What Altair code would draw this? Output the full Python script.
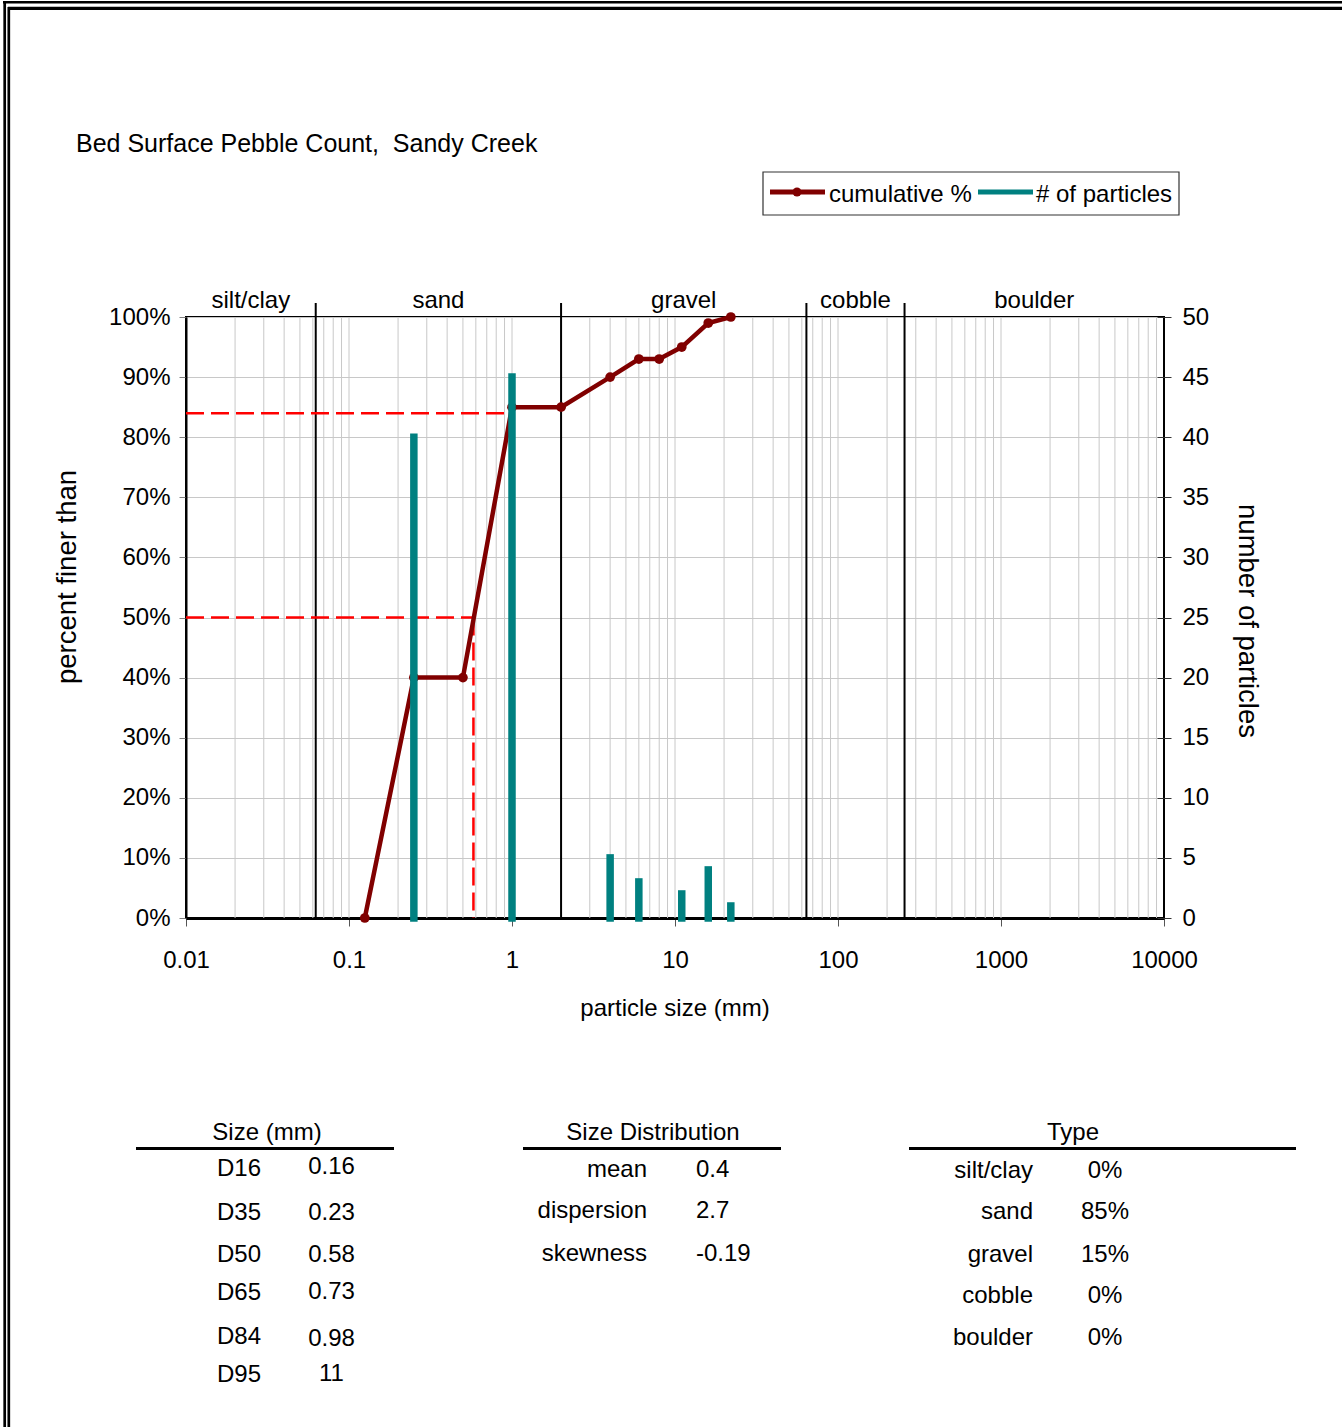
import altair as alt
import pandas as pd

# ---------------------------------------------------------------- data
sizes_mm = [0.125, 0.25, 0.5, 1, 2, 4, 6, 8, 11, 16, 22]
cumulative_pct = [0, 40, 40, 85, 85, 90, 93, 93, 95, 99, 100]

count_sizes_mm = [0.25, 1, 4, 6, 11, 16, 22]
particle_counts = [40, 45, 5, 3, 2, 4, 1]

class_names = ["silt/clay", "sand", "gravel", "cobble", "boulder"]
class_edges_mm = [0.01, 0.0625, 2, 64, 256, 10000]

d_names = ["D16", "D35", "D50", "D65", "D84", "D95"]
d_values = ["0.16", "0.23", "0.58", "0.73", "0.98", "11"]

dist_names = ["mean", "dispersion", "skewness"]
dist_values = ["0.4", "2.7", "-0.19"]

type_names = ["silt/clay", "sand", "gravel", "cobble", "boulder"]
type_values = ["0%", "85%", "15%", "0%", "0%"]

x_tick_values = [0.01, 0.1, 1, 10, 100, 1000, 10000]
pct_tick_values = [i / 10 for i in range(11)]
count_tick_values = list(range(0, 51, 5))

# ---------------------------------------------------------------- layout
OX, OY = 186, 317          # top-left corner of the plot area on the page
W, H = 978, 601            # plot area size
PAGE_W, PAGE_H = 1342, 1427
FONT = "Liberation Sans, Arial, Helvetica, sans-serif"
DARK_RED = "#800000"
TEAL = "#008080"
GRID = "#c8c8c8"

one = pd.DataFrame({"k": [0]})


def px(x):
    return x - OX


def py(y):
    return y - OY


def label(text, x, y, size=24, align="center", baseline="middle", angle=0):
    return alt.Chart(one).mark_text(
        text=text, font=FONT, fontSize=size, color="black",
        align=align, baseline=baseline, angle=angle,
    ).encode(x=alt.value(px(x)), y=alt.value(py(y)))


def hline(x1, x2, y, width=1, color="black"):
    return alt.Chart(one).mark_rule(color=color, strokeWidth=width).encode(
        x=alt.value(px(x1)), x2=alt.value(px(x2)), y=alt.value(py(y)))


def vline(x, y1, y2, width=1, color="black"):
    return alt.Chart(one).mark_rule(color=color, strokeWidth=width).encode(
        x=alt.value(px(x)), y=alt.value(py(y1)), y2=alt.value(py(y2)))


x_scale = alt.Scale(type="log", domain=[0.01, 10000], nice=False)
x_axis = alt.Axis(
    orient="bottom", values=x_tick_values, format="~g", title=None, grid=False,
    tickSize=8, tickColor="#555555", domainColor="black", domainWidth=3,
    labelPadding=22, labelFont=FONT, labelFontSize=24, labelColor="black",
    labelFlush=False, labelOverlap=False,
)


def X(field):
    return alt.X(f"{field}:Q", scale=x_scale, axis=x_axis)


pct_scale = alt.Scale(domain=[0, 1], nice=False, zero=True)

# ---------------------------------------------------------------- double frame
frame = [
    hline(3, PAGE_W, 2.2, width=2.5),
    hline(8, PAGE_W, 8.4, width=3.2),
    vline(4.7, 1, PAGE_H, width=2.7),
    vline(8.8, 7, PAGE_H, width=2.7),
]

# ---------------------------------------------------------------- vertical log grid
grid_df = pd.DataFrame({
    "g": [m * 10.0 ** k for k in range(-2, 4) for m in range(1, 10)
          if not (k == -2 and m == 1)]
})
vgrid = alt.Chart(grid_df).mark_rule(color=GRID, strokeWidth=1).encode(
    x=X("g"), y=alt.value(0), y2=alt.value(H))

# ---------------------------------------------------------------- class boundaries
bound_df = pd.DataFrame({"b": class_edges_mm[1:-1]})
bounds = alt.Chart(bound_df).mark_rule(color="black", strokeWidth=2).encode(
    x=X("b"), y=alt.value(-14), y2=alt.value(H))

class_df = pd.DataFrame({
    "name": class_names,
    "mid": [(class_edges_mm[i] * class_edges_mm[i + 1]) ** 0.5 for i in range(len(class_names))],
})
class_labels = alt.Chart(class_df).mark_text(
    font=FONT, fontSize=24, color="black", baseline="alphabetic", align="center"
).encode(x=X("mid"), y=alt.value(py(307.5)), text="name:N")

# ---------------------------------------------------------------- D50 / D84 guide lines
ref_df = pd.DataFrame({
    "d": [float(d_values[d_names.index("D50")]), float(d_values[d_names.index("D84")])],
    "p": [0.50, 0.84],
    "lo": [class_edges_mm[0]] * 2,
    "zero": [0.0, 0.0],
})
ref_h = alt.Chart(ref_df).mark_rule(color="#ff0000", strokeWidth=2.5, strokeDash=[18, 7]).encode(
    x=X("lo"), x2="d:Q", y=alt.Y("p:Q", scale=pct_scale, axis=None))
ref_v = alt.Chart(ref_df).mark_rule(color="#ff0000", strokeWidth=2.5, strokeDash=[18, 7]).encode(
    x=X("d"), y=alt.Y("p:Q", scale=pct_scale, axis=None), y2="zero:Q")

# ---------------------------------------------------------------- cumulative curve
cum_df = pd.DataFrame({"size": sizes_mm, "pct": [v / 100 for v in cumulative_pct]})
left_axis = alt.Axis(
    orient="left", values=pct_tick_values, format=".0%", title=None,
    grid=True, gridColor=GRID, gridWidth=1,
    tickSize=7, tickColor="#808080", domainColor="black", domainWidth=2,
    labelPadding=9, labelFont=FONT, labelFontSize=24, labelColor="black",
    labelFlush=False, labelOverlap=False,
)
cum_line = alt.Chart(cum_df).mark_line(
    color=DARK_RED, strokeWidth=4.5,
    point=alt.OverlayMarkDef(filled=True, size=95, color=DARK_RED, opacity=1),
).encode(x=X("size"), y=alt.Y("pct:Q", scale=pct_scale, axis=left_axis))

# ---------------------------------------------------------------- particle counts
cnt_df = pd.DataFrame({"size": count_sizes_mm, "n": particle_counts, "base": 0})
right_axis = alt.Axis(
    orient="right", values=count_tick_values, title=None, grid=False,
    tickSize=14, offset=-7, tickColor="#333333", domain=False,
    labelPadding=11, labelFont=FONT, labelFontSize=24, labelColor="black",
    labelFlush=False, labelOverlap=False,
)
bars = alt.Chart(cnt_df).mark_rule(color=TEAL, strokeWidth=7.5, strokeCap="square").encode(
    x=X("size"),
    y=alt.Y("n:Q", scale=alt.Scale(domain=[0, 50], nice=False, zero=True), axis=right_axis),
    y2="base:Q",
)

# ---------------------------------------------------------------- titles
texts = [
    label("Bed Surface Pebble Count,\u00a0 Sandy Creek", 76, 152, size=25,
          align="left", baseline="alphabetic"),
    label("particle size (mm)", 675, 1016, baseline="alphabetic"),
    label("percent finer than", 68, 577, size=27.5, angle=270),
    label("number of particles", 1247, 621, size=27.5, angle=90),
]

# ---------------------------------------------------------------- legend
legend = [
    alt.Chart(one).mark_rect(fill="white", stroke="#333333", strokeWidth=1.2).encode(
        x=alt.value(px(763)), x2=alt.value(px(1179)),
        y=alt.value(py(172)), y2=alt.value(py(215))),
    hline(770, 825, 192, width=5, color=DARK_RED),
    alt.Chart(one).mark_circle(size=80, color=DARK_RED, opacity=1).encode(
        x=alt.value(px(797)), y=alt.value(py(192))),
    label("cumulative %", 829, 202, align="left", baseline="alphabetic"),
    hline(978, 1033, 192, width=5, color=TEAL),
    label("# of particles", 1036, 202, align="left", baseline="alphabetic"),
]

# ---------------------------------------------------------------- summary tables
tables = []
# size percentiles
tables.append(label("Size (mm)", 267, 1139.5, baseline="alphabetic"))
tables.append(hline(136, 394, 1148.5, width=3))
size_label_rows = [1168, 1212, 1254, 1292, 1336, 1374]
size_value_rows = [1166, 1212, 1254, 1291, 1338, 1373]
for name, yl, val, yv in zip(d_names, size_label_rows, d_values, size_value_rows):
    tables.append(label(name, 239, yl + 1.4))
    tables.append(label(val, 331.5, yv + 1.4))

# size distribution statistics
tables.append(label("Size Distribution", 653, 1140, baseline="alphabetic"))
tables.append(hline(523, 781, 1148.5, width=3))
dist_rows = [1169, 1210, 1253]
for name, val, y in zip(dist_names, dist_values, dist_rows):
    tables.append(label(name, 647, y + 1.4, align="right"))
    tables.append(label(val, 696, y + 1.4, align="left"))

# sediment type fractions
tables.append(label("Type", 1073, 1139.5, baseline="alphabetic"))
tables.append(hline(909, 1296, 1148.5, width=3))
type_rows = [1169.5, 1210.5, 1253.5, 1294.5, 1336.5]
for name, val, y in zip(type_names, type_values, type_rows):
    tables.append(label(name, 1033, y + 1.4, align="right"))
    tables.append(label(val, 1105, y + 1.4))

layers = frame + [vgrid, bounds, ref_h, ref_v, cum_line, bars, class_labels] + texts + legend + tables

chart = alt.layer(*layers).resolve_scale(y="independent").properties(
    width=W, height=H,
    padding={"left": OX, "top": OY, "right": PAGE_W - OX - W, "bottom": PAGE_H - OY - H},
    autosize=alt.AutoSizeParams(type="none"),
    background="white",
).configure_view(stroke="black", strokeWidth=2)

chart.save("out.html", embed_options={"renderer": "svg", "actions": False})
